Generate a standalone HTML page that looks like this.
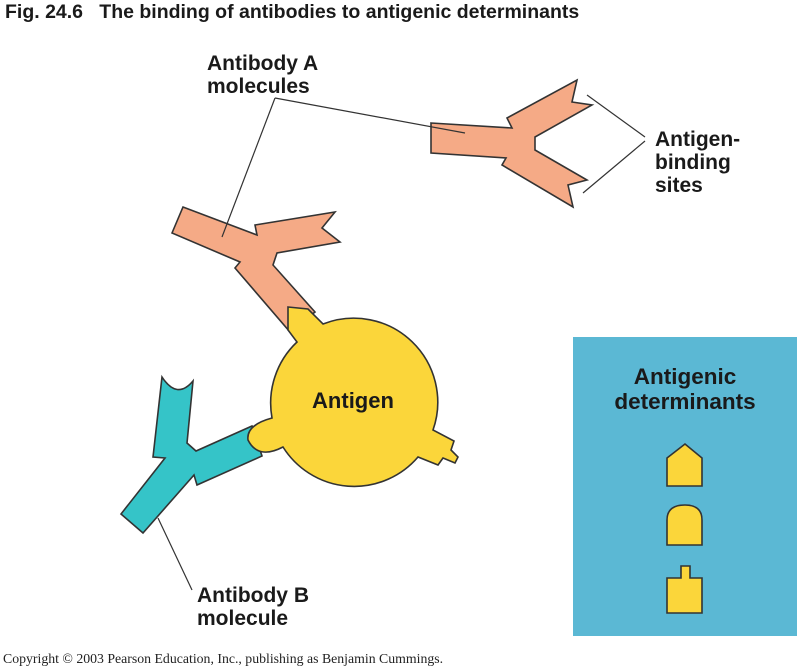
<!DOCTYPE html>
<html><head><style>
body{margin:0;background:#fff;width:800px;height:666px;overflow:hidden;position:relative;font-family:"Liberation Sans",sans-serif}
.t{position:absolute;font-weight:bold;color:#1a1a1a;line-height:23px;font-size:21px}
</style></head><body>
<svg width="800" height="666" style="position:absolute;left:0;top:0">
<g stroke="#333" stroke-width="1.6" stroke-linejoin="miter">
<rect x="573" y="337" width="224" height="299" fill="#5bb8d4" stroke="none"/>
<polygon fill="#f5aa86" points="431,123 512,128 507,118 577,80 572,102 592,105 535,137 535,150 587,180 568,185 573,207 502,165 506,158 431,153"/>
<polygon fill="#f5aa86" points="172,233 183,207 257,235 255,225 335,212 322,228 340,242 277,253 273,265 315,312 290,332 235,268 240,262"/>
<path fill="#35c4c8" d="M162,377 Q177,400 193,381 L187,443 L196,451 L252,426 L262,456 L197,485 L194,475 L143,533 L121,514 L165,458 L153,457 Z"/>
<path fill="#fbd63a" d="M288,307 L308,309 L323,324 A84,84 0 0 1 433,430 L454,441 L451,450 L458,457 L455,463 L443,458 L438,465 L418,457 A84,84 0 0 1 283,447 Q258,460 248,440 Q246,425 272,418 A84,84 0 0 1 297,342 L288,330 Z"/>
<polygon fill="#fbd63a" points="667,458 685,444 702,458 702,486 667,486"/>
<path fill="#fbd63a" d="M667,545 L667,520 Q667,505 685,505 Q702,505 702,520 L702,545 Z"/>
<path fill="#fbd63a" d="M667,578 L681,578 L681,566 L690,566 L690,578 L702,578 L702,613 L667,613 Z"/>
</g>
<g stroke="#333" stroke-width="1.2" fill="none">
<line x1="275" y1="98" x2="465" y2="133"/>
<line x1="275" y1="98" x2="222" y2="237"/>
<line x1="587" y1="95" x2="645" y2="137"/>
<line x1="583" y1="193" x2="645" y2="141"/>
<line x1="158" y1="518" x2="192" y2="590"/>
</g>
</svg>
<div class="t" style="left:5px;top:1px;font-size:19.5px">Fig. 24.6&nbsp;&nbsp; The binding of antibodies to antigenic determinants</div>
<div class="t" style="left:207px;top:52px">Antibody A<br>molecules</div>
<div class="t" style="left:655px;top:128px">Antigen-<br>binding<br>sites</div>
<div class="t" style="left:573px;width:224px;top:364px;text-align:center;font-size:22.5px;line-height:25px">Antigenic<br>determinants</div>
<div class="t" style="left:295px;width:116px;top:389px;text-align:center;font-size:22px">Antigen</div>
<div class="t" style="left:197px;top:584px">Antibody B<br>molecule</div>
<div style="position:absolute;left:3px;top:651px;font-family:'Liberation Serif',serif;font-size:13.8px;color:#222">Copyright © 2003 Pearson Education, Inc., publishing as Benjamin Cummings.</div>
</body></html>
